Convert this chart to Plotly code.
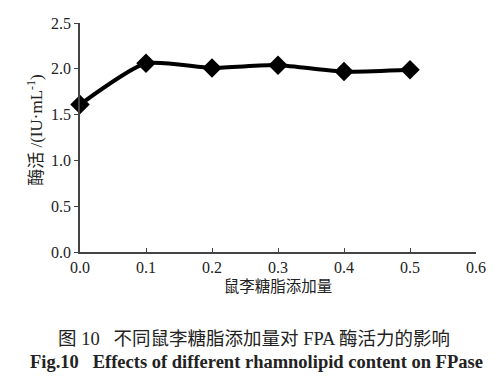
import plotly.graph_objects as go

x_vals = [0.0, 0.1, 0.2, 0.3, 0.4, 0.5]
y_vals = [1.61, 2.06, 2.01, 2.04, 1.97, 1.99]
x_ticks = [0.0, 0.1, 0.2, 0.3, 0.4, 0.5, 0.6]
y_ticks = [0.0, 0.5, 1.0, 1.5, 2.0, 2.5]

serif = "Liberation Serif, Times New Roman, serif"
cjk = "Liberation Serif, Noto Sans CJK SC, serif"

fig = go.Figure()
fig.add_trace(go.Scatter(
    x=x_vals, y=y_vals, mode="lines+markers",
    line=dict(color="black", width=4, shape="spline", smoothing=0.6),
    marker=dict(symbol="diamond", size=15, color="black"),
    showlegend=False, cliponaxis=False,
))

fig.update_layout(
    width=500, height=386,
    margin=dict(l=80, r=24, t=23, b=134),
    paper_bgcolor="white", plot_bgcolor="white",
    font=dict(family=serif, color="#222", size=14),
    xaxis=dict(
        range=[0, 0.6], tickvals=x_ticks, ticktext=[f"{v:.1f}" for v in x_ticks],
        showline=True, linecolor="#444", linewidth=1.5, ticks="inside", ticklen=4,
        tickcolor="#444", showgrid=False, zeroline=False, automargin=False,
        title=dict(text="鼠李糖脂添加量", font=dict(family=cjk, size=15.5), standoff=6),
        tickfont=dict(size=16),
    ),
    yaxis=dict(
        range=[0, 2.5], tickvals=y_ticks, ticktext=[f"{v:.1f}" for v in y_ticks],
        showline=True, linecolor="#444", linewidth=1.5, ticks="outside", ticklen=4,
        tickcolor="#444", showgrid=False, zeroline=False, automargin=False,
        tickfont=dict(size=16),
    ),
)

fig.add_annotation(
    text="酶活 /(IU·mL<sup>-1</sup>)", textangle=-90,
    xref="paper", yref="paper", x=-0.114, y=0.533, xanchor="center", yanchor="middle",
    showarrow=False, font=dict(family=cjk, size=17, color="#222"),
)
fig.add_annotation(
    text="图 10   不同鼠李糖脂添加量对 FPA 酶活力的影响",
    xref="paper", yref="paper", x=0.44, y=-0.38, xanchor="center", yanchor="middle",
    showarrow=False, font=dict(family=cjk, size=18.5, color="#222"),
)
fig.add_annotation(
    text="<b>Fig.10   Effects of different rhamnolipid content on FPase</b>",
    xref="paper", yref="paper", x=0.445, y=-0.48, xanchor="center", yanchor="middle",
    showarrow=False, font=dict(family=serif, size=18.5, color="#222"),
)

fig.write_html("out.html", config={"displayModeBar": False},
               post_script="document.body.style.margin='0';")
